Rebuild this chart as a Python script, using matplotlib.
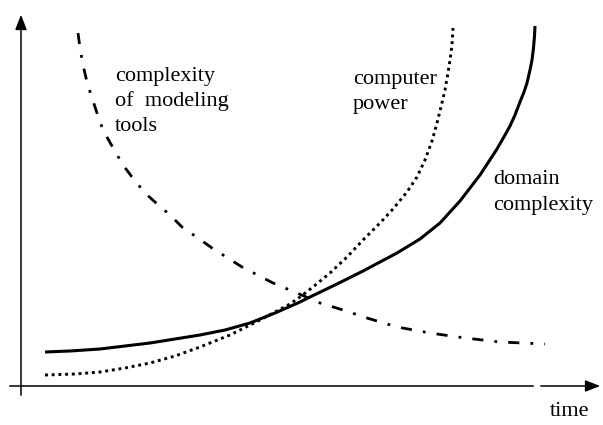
import matplotlib.pyplot as plt

# curves (x = time, y = value, both in picture units)
domain_x = [45, 70, 100, 125, 150, 175, 200, 225, 250, 275, 300, 310, 337, 363, 397, 420, 440,
            460, 480, 497, 505, 510, 515, 520, 524, 527, 530, 532, 533.5, 534.5, 535]
domain_y = [352, 351, 349, 346, 343, 339, 335, 330, 323, 313, 302, 297, 284, 271, 253, 239, 223,
            201, 175, 149, 135, 126, 115, 102, 92, 83, 70, 60, 48, 36, 26]

power_x = [45, 75, 100, 125, 150, 175, 200, 230, 260, 290, 300, 313, 330, 347, 363, 380, 393, 407,
           417, 425, 432, 437, 441, 445, 448, 450, 452, 453]
power_y = [375, 374, 372, 368, 363, 356, 347, 335, 320, 304, 297, 287, 273, 257, 240, 223, 209, 192,
           177, 160, 141, 123, 107, 90, 73, 60, 45, 28]

tools_x = [78, 80, 83, 87, 92, 97, 103, 112, 123, 132, 145, 155, 170, 182, 198, 212, 242, 273, 297,
           320, 343, 367, 397, 430, 465, 500, 545]
tools_y = [33, 48, 65, 82, 98, 113, 130, 146, 165, 177, 193, 202, 215, 227, 238, 248, 267, 283, 293,
           303, 310, 318, 327, 333, 338, 342, 344]

H = 425

fig = plt.figure(figsize=(6.03, 4.25), dpi=100)
ax = fig.add_axes([0, 0, 1, 1])
ax.set_xlim(0, 603)
ax.set_ylim(0, H)
ax.axis('off')

def flip(vals):
    return [H - v for v in vals]

ax.plot(domain_x, flip(domain_y), color='black', lw=2.2, solid_capstyle='butt', solid_joinstyle='round')
ax.plot(power_x, flip(power_y), color='black', lw=2.1, linestyle=(0, (1, 1.3)))
ax.plot(tools_x, flip(tools_y), color='black', lw=2.0, linestyle=(0, (4, 4, 1, 4)))

# axes with arrows
ax.annotate('', xy=(21, H - 12), xytext=(21, H - 398),
            arrowprops=dict(arrowstyle='-|>,head_length=0.9,head_width=0.35', color='black', lw=1.1))
ax.plot([10, 533], [H - 386, H - 386], color='black', lw=1.1)
ax.annotate('', xy=(603, H - 386), xytext=(538, H - 386),
            arrowprops=dict(arrowstyle='-|>,head_length=0.9,head_width=0.35', color='black', lw=1.1))

font = dict(family='Liberation Serif', fontsize=16, color='black')
ax.text(115, H - 76, 'complexity', va='center', ha='left', **font)
ax.text(115, H - 101, 'of  modeling', va='center', ha='left', **font)
ax.text(115, H - 126, 'tools', va='center', ha='left', **font)
ax.text(353, H - 79, 'computer', va='center', ha='left', **font)
ax.text(353, H - 104, 'power', va='center', ha='left', **font)
ax.text(493, H - 179, 'domain', va='center', ha='left', **font)
ax.text(493, H - 205, 'complexity', va='center', ha='left', **font)
ax.text(570, H - 411, 'time', va='center', ha='center', **font)

fig.savefig('out.png', dpi=100)
